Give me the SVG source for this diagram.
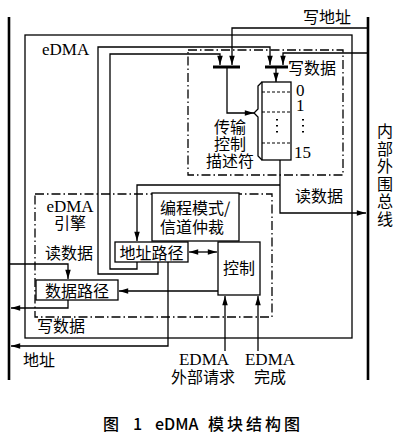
<svg xmlns="http://www.w3.org/2000/svg" width="400" height="434" viewBox="0 0 400 434">
<defs>
<marker id="ah" viewBox="0 0 10 6" refX="10" refY="3" markerWidth="10" markerHeight="5.5" markerUnits="userSpaceOnUse" orient="auto-start-reverse">
<path d="M0,0 L10,3 L0,6 Z" fill="#000"/>
</marker>
<style>
.ln{fill:none;stroke:#000;stroke-width:1.3}
.bus{fill:none;stroke:#000;stroke-width:2.6}
.bar{fill:none;stroke:#000;stroke-width:3}
.dd{fill:none;stroke:#000;stroke-width:1.3;stroke-dasharray:9 3 1.5 3}
.dsh{fill:none;stroke:#000;stroke-width:1.2;stroke-dasharray:3 2}
.dot{fill:none;stroke:#000;stroke-width:2;stroke-dasharray:1.6 4.4}
.box{fill:#fff;stroke:#000;stroke-width:1.3}
.cn{font-family:"Noto Sans CJK SC","Noto Sans",sans-serif;font-size:16px;fill:#000}
.en{font-family:"Liberation Serif","Times New Roman",serif;font-size:17px;fill:#000}
.cap{font-family:"Noto Sans CJK SC","Liberation Sans",sans-serif;font-size:16px;font-weight:500;fill:#000}
</style>
</defs>
<rect width="400" height="434" fill="#fff"/>

<g id="buses">
<line class="bus" x1="9" y1="17" x2="9" y2="380"/>
<line class="bus" x1="368" y1="17" x2="368" y2="380"/>
</g>

<g id="edma">
<rect class="ln" x="25" y="35" width="327" height="303"/>
<text class="en" x="42" y="55">eDMA</text>
</g>

<g id="tcd-area">
<rect class="dd" x="188" y="50" width="155" height="125"/>
</g>

<g id="engine">
<rect class="dd" x="35" y="194" width="237" height="123"/>
<text class="en" text-anchor="middle"><tspan x="70" y="212">eDMA</tspan><tspan class="cn" x="70" y="229">引擎</tspan></text>
</g>

<g id="connectors">
<polyline class="ln" points="368,28 232,28 232,65" marker-end="url(#ah)"/>
<polyline class="ln" points="368,53 283,53 283,65" marker-end="url(#ah)"/>
<polyline class="ln" points="158,262 158,274 98,274 98,47 270,47 270,65" marker-end="url(#ah)"/>
<polyline class="ln" points="137,262 137,269 110,269 110,54 220,54 220,65" marker-end="url(#ah)"/>
<polyline class="ln" points="227,67 227,113 254,113" marker-end="url(#ah)"/>
<line class="ln" x1="276" y1="67" x2="276" y2="82" marker-end="url(#ah)"/>
<polyline class="ln" points="280,143 280,213 366,213" marker-end="url(#ah)"/>
<polyline class="ln" points="280,185 137,185 137,241" marker-end="url(#ah)"/>
<line class="ln" x1="189" y1="252" x2="217" y2="252" marker-start="url(#ah)" marker-end="url(#ah)"/>
<polyline class="ln" points="168,262 168,346 11,346" marker-end="url(#ah)"/>
<line class="ln" x1="218" y1="291" x2="119" y2="291" marker-end="url(#ah)"/>
<polyline class="ln" points="10,264 68,264 68,279" marker-end="url(#ah)"/>
<polyline class="ln" points="68,300 68,308 11,308" marker-end="url(#ah)"/>
<line class="ln" x1="225" y1="351" x2="225" y2="296" marker-end="url(#ah)"/>
<line class="ln" x1="258" y1="351" x2="258" y2="296" marker-end="url(#ah)"/>
</g>

<g id="bar-left"><line class="bar" x1="213" y1="67" x2="240" y2="67"/></g>
<g id="bar-right"><line class="bar" x1="265" y1="67" x2="288" y2="67"/></g>

<g id="stack">
<rect class="box" x="262" y="82" width="29" height="78"/>
<path class="ln" d="M262,82 L258,86 L258,109 L254,113 L258,117 L258,156 L262,160"/>
<line class="dsh" x1="262" y1="92" x2="291" y2="92"/>
<line class="dsh" x1="262" y1="112" x2="291" y2="112"/>
<line class="dsh" x1="262" y1="143" x2="291" y2="143"/>
<line class="dot" x1="277" y1="119" x2="277" y2="134"/>
<line class="dot" x1="303" y1="119" x2="303" y2="134"/>
<text class="en"><tspan x="296" y="96">0</tspan><tspan x="296" y="111">1</tspan><tspan x="294" y="158">15</tspan></text>
<text class="cn" text-anchor="middle"><tspan x="230" y="133">传输</tspan><tspan x="230" y="150">控制</tspan><tspan x="230" y="167">描述符</tspan></text>
</g>

<g id="prog">
<rect class="box" x="152" y="193" width="87" height="48"/>
<text class="cn"><tspan x="160" y="214">编程模式/</tspan><tspan x="160" y="233">信道仲裁</tspan></text>
</g>

<g id="ctrl">
<rect class="box" x="218" y="242" width="42" height="53"/>
<text class="cn" x="239" y="274" text-anchor="middle">控制</text>
</g>

<g id="addr">
<rect class="box" x="115" y="242" width="73" height="20"/>
<text class="cn" x="151.5" y="258.5" text-anchor="middle">地址路径</text>
</g>

<g id="data">
<rect class="box" x="36" y="280" width="82" height="20"/>
<text class="cn" x="77" y="296.5" text-anchor="middle">数据路径</text>
</g>

<g id="labels">
<text class="cn" x="303" y="23">写地址</text>
<text class="cn" x="288" y="74">写数据</text>
<text class="cn" x="295" y="202">读数据</text>
<text class="cn" x="45" y="259">读数据</text>
<text class="cn" x="37" y="332">写数据</text>
<text class="cn" x="23" y="366">地址</text>
<text text-anchor="middle"><tspan class="en" x="204" y="365">EDMA</tspan><tspan class="cn" x="203" y="383">外部请求</tspan></text>
<text text-anchor="middle"><tspan class="en" x="270" y="365">EDMA</tspan><tspan class="cn" x="270" y="383">完成</tspan></text>
<text class="cn" x="385" y="123" writing-mode="vertical-rl" letter-spacing="1.6">内部外围总线</text>
</g>

<g id="caption">
<text class="cap" x="103" y="430">图</text>
<text class="cap" x="133" y="430">1</text>
<text class="cap" x="155" y="430">eDMA</text>
<text class="cap" x="208" y="430" textLength="92" lengthAdjust="spacing">模块结构图</text>
</g>
</svg>
